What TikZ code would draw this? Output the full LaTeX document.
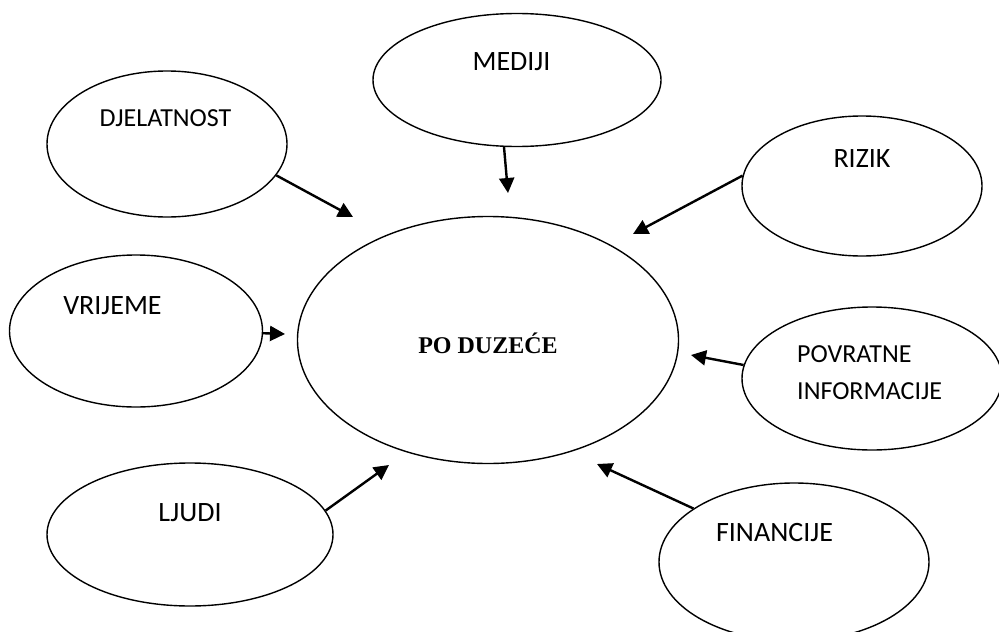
\documentclass[tikz,border=0pt]{standalone}
\usepackage{fontspec}
\setmainfont{Carlito}
\newfontfamily\timesfont{Liberation Serif}
\usepackage{tikz}
\usetikzlibrary{shapes.geometric, arrows.meta}

\begin{document}
\begin{tikzpicture}[x=1pt, y=-1pt,
    oval/.style={ellipse, draw, line width=1.4pt, inner sep=0pt},
    lbl/.style={anchor=base, inner sep=0pt, font=\fontsize{28}{34}\selectfont},
    smalllbl/.style={lbl, font=\fontsize{26}{37}\selectfont},
    arr/.style={line width=2.4pt, -{Triangle[length=15pt, width=15pt]}}]
    \useasboundingbox (0,0) rectangle (999,632);

    \node [oval, minimum width=240pt, minimum height=146pt] (djel)    at (167,144)   {};
    \node [oval, minimum width=288pt, minimum height=133pt] (medij)   at (517,80)    {};
    \node [oval, minimum width=240pt, minimum height=140pt] (rizik)   at (862,186)   {};
    \node [oval, minimum width=253pt, minimum height=152pt] (vrijeme) at (136,331)   {};
    \node [oval, minimum width=381pt, minimum height=247pt] (poduz)   at (488,340)   {};
    \node [oval, minimum width=260pt, minimum height=143pt] (povrat)  at (872,378.5) {};
    \node [oval, minimum width=286pt, minimum height=143pt] (ljudi)   at (190,534.5) {};
    \node [oval, minimum width=270pt, minimum height=158pt] (financ)  at (794,562)   {};

    \node [smalllbl] (djelText)  at (165.5,126) {DJELATNOST};
    \node [lbl] (medijText)      at (511.5,70)  {MEDIJI};
    \node [lbl] (rizikText)      at (862,167)   {RIZIK};
    \node [lbl] (vrijemeText)    at (112.5,314) {VRIJEME};
    \node [lbl] (ljudiText)      at (190,521.5) {LJUDI};
    \node [lbl] (financText)     at (774.5,541.5) {FINANCIJE};
    \node [smalllbl, anchor=west, align=left] (povratText) at (797,372.5) {POVRATNE\\INFORMACIJE};
    \node [anchor=base, inner sep=0pt, font=\timesfont\bfseries\fontsize{24}{28}\selectfont] (poduzText) at (488,353) {PO DUZEĆE};

    \coordinate (tDjel)  at (353,217);
    \coordinate (tMedij) at (508,193);
    \coordinate (tRizik) at (633,234);
    \coordinate (tVrij)  at (285,334);
    \coordinate (tPovr)  at (691,355);
    \coordinate (tLjudi) at (389,465);
    \coordinate (tFin)   at (597,464);

    % Now draw the arrows:
    \draw [arr] (djel.-16)     -- (tDjel);
    \draw [arr] (medij.-101)   -- (tMedij);
    \draw [arr] (rizik.175)    -- (tRizik);
    \draw [arr] (vrijeme.-1)   -- (tVrij);
    \draw [arr] (povrat.174.5) -- (tPovr);
    \draw [arr] (ljudi.10.5)   -- (tLjudi);
    \draw [arr] (financ.152)   -- (tFin);
\end{tikzpicture}
\end{document}
